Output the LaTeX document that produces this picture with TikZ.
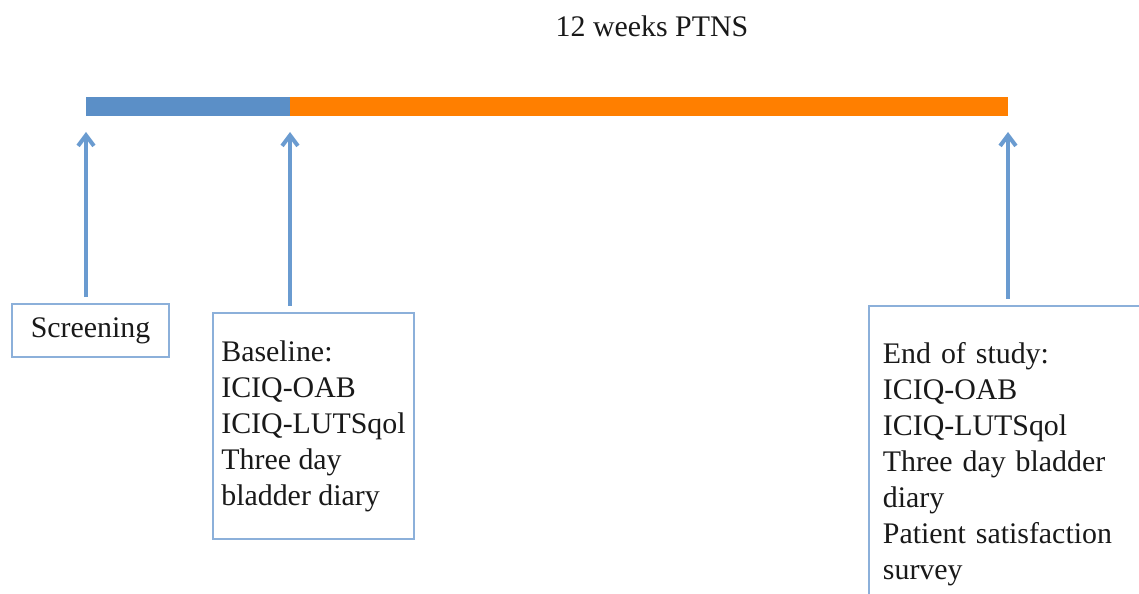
\documentclass[tikz,border=0pt]{standalone}
\usepackage{fontspec}
\setmainfont{Liberation Serif}
\usetikzlibrary{arrows.meta}
\definecolor{barblue}{RGB}{91,143,199}
\definecolor{barorange}{RGB}{255,127,0}
\definecolor{arrowblue}{RGB}{106,155,208}
\definecolor{boxblue}{RGB}{140,176,218}
\tikzset{
  stage/.style={draw=boxblue, line width=1.1pt, align=left, text=black!90, font=\fontsize{17}{20.5}\selectfont},
  pointer/.style={draw=arrowblue, line width=2.3pt, shorten <=0.12cm, shorten >=0.5cm, -{Straight Barb[length=6pt,width=9pt]}}
}
\begin{document}
\begin{tikzpicture}
\clip (0,0) rectangle (22.78,11.86);
\coordinate (t0) at (1.72,9.72);
\coordinate (t1) at (5.80,9.72);
\coordinate (t2) at (20.16,9.72);
\draw[barblue, line width=0.38cm] (t0) -- (t1);
\draw[barorange, line width=0.38cm] (t1) -- (t2);
\node[anchor=base, text=black!90, font=\fontsize{17}{20.5}\selectfont] (title) at (13.04,11.12) {12 weeks PTNS};
\node[stage, minimum width=3.14cm, minimum height=1.06cm] (scr) at (1.81,5.25) {Screening};
\node[stage, anchor=north west, minimum width=4.02cm, minimum height=4.52cm] (base) at (4.24,5.62)
  {Baseline:\\ ICIQ-OAB\\ ICIQ-LUTSqol\\ Three day\\ bladder diary};
\node[stage, anchor=north west, text width=5.6cm, inner xsep=0.28cm, inner ysep=0.72cm] (end) at (17.36,5.76)
  {End of study:\\ ICIQ-OAB\\ ICIQ-LUTSqol\\ Three day bladder\\ diary\\ Patient satisfaction\\ survey};
\draw[pointer] (scr.north -| t0) -- (t0);
\draw[pointer] (base.north -| t1) -- (t1);
\draw[pointer] (end.north -| t2) -- (t2);
\end{tikzpicture}
\end{document}
